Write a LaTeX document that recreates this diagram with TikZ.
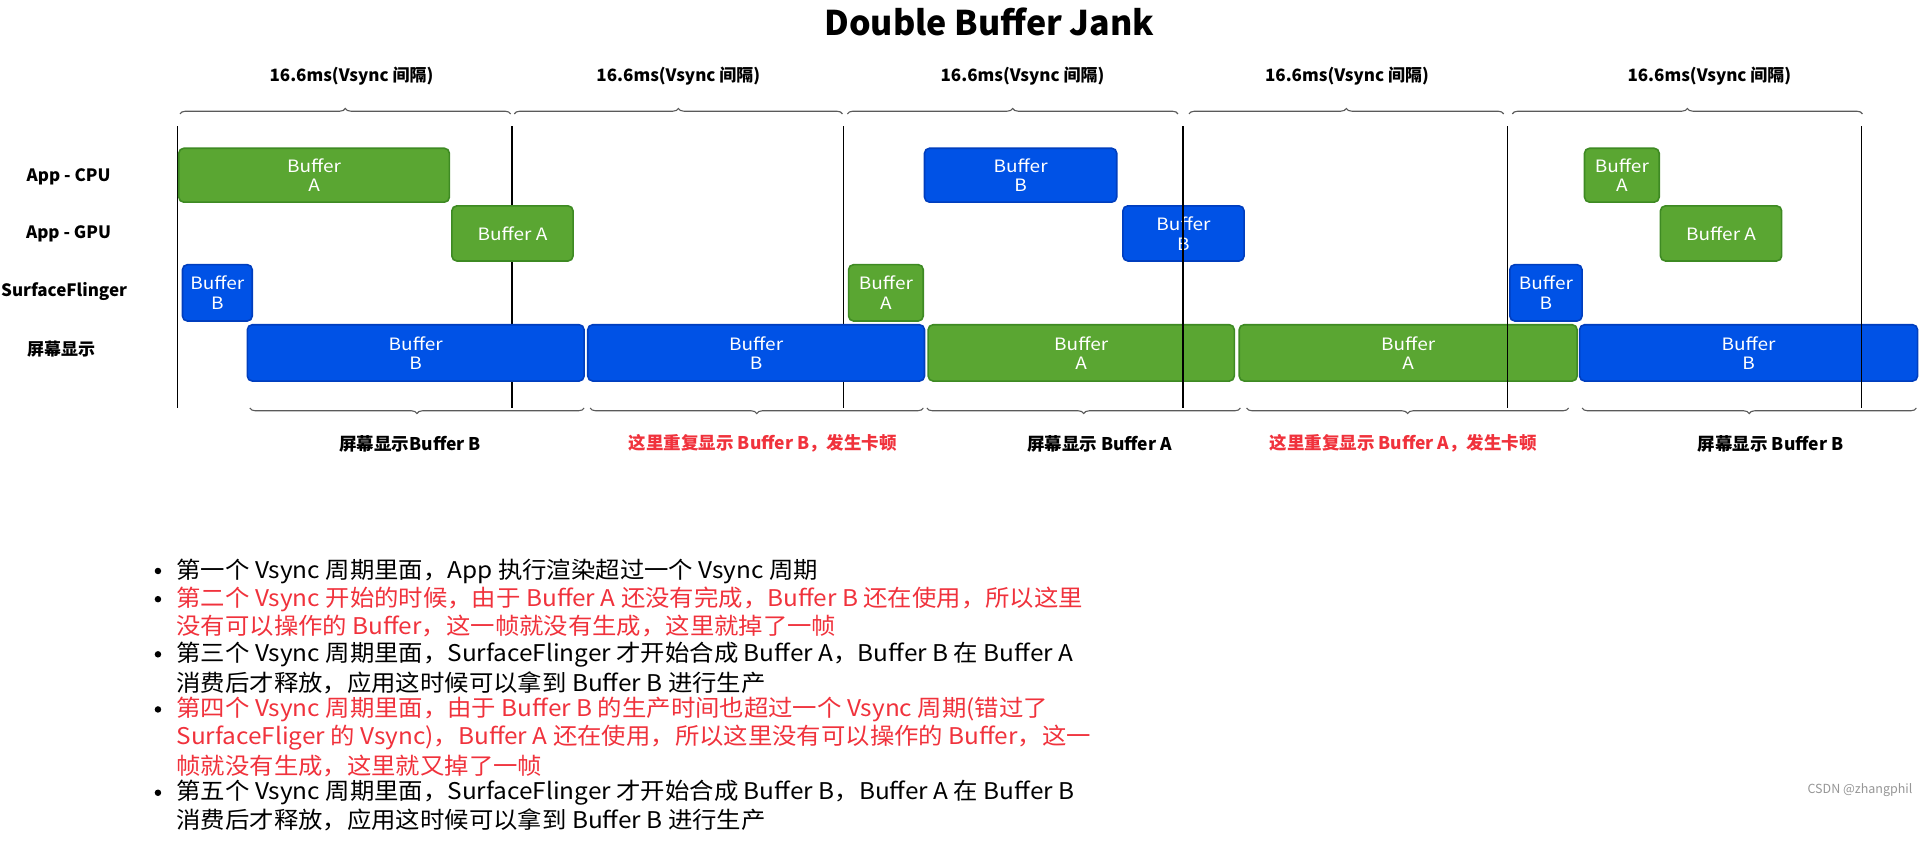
\documentclass[tikz,border=0pt]{standalone}
\usepackage{fontspec}
\setmainfont{Noto Sans CJK SC}
\newfontfamily\widefont{Noto Sans CJK SC}[FakeStretch=1.06]
\newfontfamily\boxfont{Noto Sans CJK SC}[FakeStretch=1.12]
\usetikzlibrary{decorations.pathreplacing}
\definecolor{gfill}{RGB}{90,166,50}
\definecolor{gdraw}{RGB}{62,138,35}
\definecolor{bfill}{RGB}{0,82,230}
\definecolor{bdraw}{RGB}{0,62,190}
\definecolor{jred}{RGB}{240,50,60}
\definecolor{bracegray}{RGB}{90,90,90}
\definecolor{wmgray}{RGB}{150,150,150}
\newcommand\bufbox[7]{\node[#6, minimum width={(#4-#2)*1.22449pt}, minimum height={(#5-#3)*1.2253pt}] (#1) at ({(#2+#4)/2},{(#3+#5)/2}) {#7};}
\tikzset{
  box/.style={rounded corners=5pt, line width=1.6pt, inner sep=0pt, outer sep=0pt, align=center, text=white, font=\boxfont\fontsize{17}{19.5}\selectfont},
  gbox/.style={box, fill=gfill, draw=gdraw},
  bbox/.style={box, fill=bfill, draw=bdraw},
  rowlabel/.style={font=\fontsize{17}{18}\selectfont\bfseries, inner sep=0pt},
  toplabel/.style={font=\fontsize{17}{18}\selectfont\bfseries, inner sep=0pt},
  botlabel/.style={font=\fontsize{17.5}{18}\selectfont\bfseries, inner sep=0pt},
  vsync/.style={line width=1.4pt, black},
  topbrace/.style={decorate, decoration={brace, amplitude=5.5pt}, line width=1.1pt, bracegray},
  botbrace/.style={decorate, decoration={brace, mirror, amplitude=5.5pt}, line width=1.1pt, bracegray},
  bl/.style={anchor=west, inner sep=0pt, font=\widefont\fontsize{23}{24}\selectfont},
  dot/.style={circle, fill=black, inner sep=0pt, minimum size=6.5pt},
}
\begin{document}
\begin{tikzpicture}[x=1.22449pt, y=-1.2253pt]
\useasboundingbox (0,0) rectangle (1568,688);
% title
\node[font=\fontsize{34}{38}\selectfont\bfseries, inner sep=0pt] (title) at (808,18) {Double Buffer Jank};
% top labels
\node[toplabel] (t1) at (287,62) {16.6ms(Vsync 间隔)};
\node[toplabel] (t2) at (554,62) {16.6ms(Vsync 间隔)};
\node[toplabel] (t3) at (835,62) {16.6ms(Vsync 间隔)};
\node[toplabel] (t4) at (1100,62) {16.6ms(Vsync 间隔)};
\node[toplabel] (t5) at (1396,62) {16.6ms(Vsync 间隔)};
% top braces
\coordinate (b1l) at (147,93); \coordinate (b1r) at (417,93);
\coordinate (b2l) at (420,93); \coordinate (b2r) at (688,93);
\coordinate (b3l) at (692,93); \coordinate (b3r) at (962,93);
\coordinate (b4l) at (971,93); \coordinate (b4r) at (1228,93);
\coordinate (b5l) at (1235,93); \coordinate (b5r) at (1521,93);
\foreach \i in {1,...,5} \draw[topbrace] (b\i l) -- (b\i r);
% row labels
\node[rowlabel] (rcpu) at (56,144) {App - CPU};
\node[rowlabel] (rgpu) at (56,191) {App - GPU};
\node[rowlabel, anchor=west] (rsf) at (0.8,238) {SurfaceFlinger};
\node[rowlabel] (rdisp) at (50,285) {屏幕显示};
% vsync lines
\foreach \x [count=\i] in {145,418,689,966,1231,1520} {
  \coordinate (v\i t) at (\x,103);
  \coordinate (v\i b) at (\x,333);
}
% first three vsync lines lie behind the boxes
\foreach \i in {1,2,3} \draw[vsync] (v\i t) -- (v\i b);
\bufbox{c1}{146}{121}{367}{165}{gbox}{Buffer\\A}
\bufbox{c2}{755}{121}{912}{165}{bbox}{Buffer\\B}
\bufbox{c3}{1294}{121}{1355}{165}{gbox}{Buffer\\A}
\bufbox{g1}{369}{168}{468}{213}{gbox}{Buffer A}
\bufbox{g2}{917}{168}{1016}{213}{bbox}{Buffer\\B}
\bufbox{g3}{1356}{168}{1455}{213}{gbox}{Buffer A}
\bufbox{s1}{149}{216}{206}{262}{bbox}{Buffer\\B}
\bufbox{s2}{693}{216}{754}{262}{gbox}{Buffer\\A}
\bufbox{s3}{1233}{216}{1292}{262}{bbox}{Buffer\\B}
\bufbox{d1}{202}{265}{477}{311}{bbox}{Buffer\\B}
\bufbox{d2}{480}{265}{755}{311}{bbox}{Buffer\\B}
\bufbox{d3}{758}{265}{1008}{311}{gbox}{Buffer\\A}
\bufbox{d4}{1012}{265}{1288}{311}{gbox}{Buffer\\A}
\bufbox{d5}{1290}{265}{1566}{311}{bbox}{Buffer\\B}
% last three vsync lines lie on top
\foreach \i in {4,5,6} \draw[vsync] (v\i t) -- (v\i b);
% bottom braces
\coordinate (p1l) at (204,333); \coordinate (p1r) at (477,333);
\coordinate (p2l) at (482,333); \coordinate (p2r) at (754,333);
\coordinate (p3l) at (757,333); \coordinate (p3r) at (1013,333);
\coordinate (p4l) at (1018,333); \coordinate (p4r) at (1281,333);
\coordinate (p5l) at (1292,333); \coordinate (p5r) at (1565,333);
\foreach \i in {1,...,5} \draw[botbrace] (p\i l) -- (p\i r);
% bottom labels
\node[botlabel] (q1) at (335,362) {屏幕显示Buffer B};
\node[botlabel, text=jred] (q2) at (623,362) {这里重复显示 Buffer B，发生卡顿};
\node[botlabel] (q3) at (898,362) {屏幕显示 Buffer A};
\node[botlabel, text=jred] (q4) at (1146,362) {这里重复显示 Buffer A，发生卡顿};
\node[botlabel] (q5) at (1446,362) {屏幕显示 Buffer B};
% bullet text
\node[bl] (l1) at (144,466) {第一个 Vsync 周期里面，App 执行渲染超过一个 Vsync 周期};
\node[bl, text=jred] (l2) at (144,489) {第二个 Vsync 开始的时候，由于 Buffer A 还没有完成，Buffer B 还在使用，所以这里};
\node[bl, text=jred] (l3) at (144,511) {没有可以操作的 Buffer，这一帧就没有生成，这里就掉了一帧};
\node[bl] (l4) at (144,534) {第三个 Vsync 周期里面，SurfaceFlinger 才开始合成 Buffer A，Buffer B 在 Buffer A};
\node[bl] (l5) at (144,557) {消费后才释放，应用这时候可以拿到 Buffer B 进行生产};
\node[bl, text=jred] (l6) at (144,579) {第四个 Vsync 周期里面，由于 Buffer B 的生产时间也超过一个 Vsync 周期(错过了};
\node[bl, text=jred] (l7) at (144,602) {SurfaceFliger 的 Vsync)，Buffer A 还在使用，所以这里没有可以操作的 Buffer，这一};
\node[bl, text=jred] (l8) at (144,625) {帧就没有生成，这里就又掉了一帧};
\node[bl] (l9) at (144,647) {第五个 Vsync 周期里面，SurfaceFlinger 才开始合成 Buffer B，Buffer A 在 Buffer B};
\node[bl] (l10) at (144,669) {消费后才释放，应用这时候可以拿到 Buffer B 进行生产};
\foreach \y [count=\i] in {466,489,534,579,647} \node[dot] (dot\i) at (129,\y) {};
% watermark
\node[font=\fontsize{12.5}{15}\selectfont, text=wmgray, anchor=east, inner sep=0pt] (wm) at (1562,645) {CSDN @zhangphil};
\end{tikzpicture}
\end{document}
